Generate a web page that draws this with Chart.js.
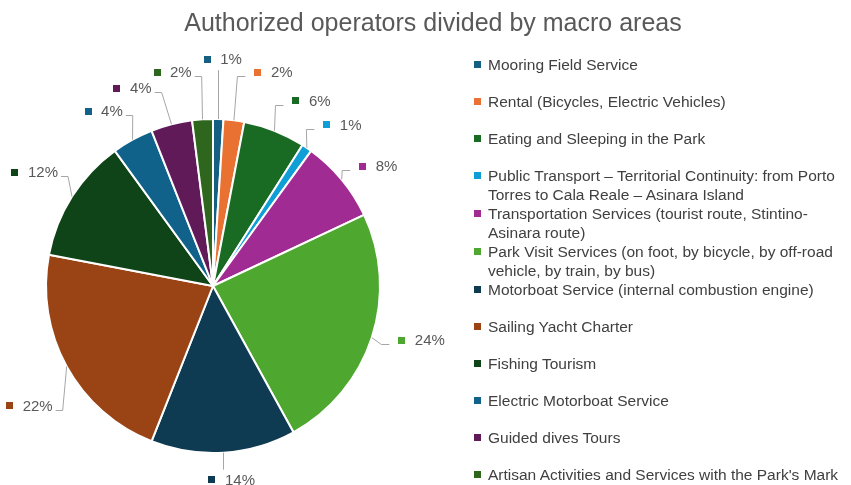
<!DOCTYPE html>
<html>
<head>
<meta charset="utf-8">
<script src="https://cdn.jsdelivr.net/npm/chart.js@4.4.1/dist/chart.umd.min.js"></script>
<style>
  html, body { margin: 0; padding: 0; background: #ffffff; }
  #wrap { position: relative; width: 851px; height: 485px; overflow: hidden; }
  #chart { position: absolute; left: 0; top: 0; }
  #title {
    position: absolute; left: 0; top: 8px; width: 866px; text-align: center;
    font: 25px "Liberation Sans", Arial, sans-serif; color: #595959;
  }
  #legend {
    position: absolute; left: 472px; top: 55px;
    font: 15.5px "Liberation Sans", Arial, sans-serif; color: #404040; line-height: 19px;
  }
  .item { position: relative; padding-left: 16px; white-space: nowrap; margin-bottom: 18px; }
  .item.wrapped { margin-bottom: 0; }
  .swatch { position: absolute; left: 2px; top: 6px; width: 7px; height: 7px; }
</style>
</head>
<body>
<div id="wrap">
  <canvas id="chart" width="851" height="485"></canvas>
  <div id="title">Authorized operators divided by macro areas</div>
  <div id="legend"></div>
</div>
<script>
// Macro areas (multi-line entries are split where the legend breaks them)
const categories = [
  'Mooring Field Service',
  'Rental (Bicycles, Electric Vehicles)',
  'Eating and Sleeping in the Park',
  ['Public Transport – Territorial Continuity: from Porto', 'Torres to Cala Reale – Asinara Island'],
  ['Transportation Services (tourist route, Stintino-', 'Asinara route)'],
  ['Park Visit Services (on foot, by bicycle, by off-road', 'vehicle, by train, by bus)'],
  'Motorboat Service (internal combustion engine)',
  'Sailing Yacht Charter',
  'Fishing Tourism',
  'Electric Motorboat Service',
  'Guided dives Tours',
  "Artisan Activities and Services with the Park's Mark"
];

// Share of authorized operators, percent
const shares = [1, 2, 6, 1, 8, 24, 14, 22, 12, 4, 4, 2];

const sliceColors = [
  '#156082', '#E97132', '#196B24', '#0F9ED5', '#A02B93', '#4EA72E',
  '#0E3A52', '#9A4416', '#0F4418', '#10628A', '#601A58', '#2F661E'
];

// Where each percentage label sits relative to the outer edge of its slice
const labelOffsets = [
  [-11, -60], [24, -48], [21.5, -30], [20, -23], [21, -13.5], [30, 2.5],
  [-11.5, 27], [-57, 39.5], [-57, -24.5], [-44.5, -28.5], [-54.5, -36], [-45.5, -47]
];

const LABEL_FONT = '15px "Liberation Sans", Arial, sans-serif';

// Percentage labels with small colour keys and grey leader lines
const outsideLabels = {
  id: 'outsideLabels',
  afterDatasetsDraw(chart) {
    const ctx = chart.ctx;
    const meta = chart.getDatasetMeta(0);
    const ds = chart.data.datasets[0];
    ctx.save();
    ctx.font = LABEL_FONT;
    ctx.textBaseline = 'middle';
    ctx.textAlign = 'left';
    meta.data.forEach((arc, i) => {
      const p = arc.getProps(['x', 'y', 'startAngle', 'endAngle', 'outerRadius'], true);
      const mid = (p.startAngle + p.endAngle) / 2;
      const ax = p.x + p.outerRadius * Math.cos(mid);
      const ay = p.y + p.outerRadius * Math.sin(mid);
      const mx = ax + labelOffsets[i][0];
      const my = ay + labelOffsets[i][1];
      const text = ds.data[i] + '%';
      const tw = ctx.measureText(text).width;
      const left = mx - 3.5, right = mx + 13 + tw, top = my - 9, bottom = my + 9;

      ctx.strokeStyle = '#a6a6a6';
      ctx.lineWidth = 1;
      ctx.beginPath();
      if (ax >= left && ax <= right) {
        const ey = ay > my ? bottom + 2 : top - 1;
        ctx.moveTo(Math.round(ax) + 0.5, ay);
        ctx.lineTo(Math.round(ax) + 0.5, ey);
      } else if (ax < left) {
        const ly = Math.round(my + 4) + 0.5;
        const lx = left - 9;
        ctx.moveTo(lx, ly);
        ctx.lineTo(lx - 8, ly);
        ctx.lineTo(ax, ay);
      } else {
        const ly = Math.round(my + 4) + 0.5;
        const lx = right + 3;
        ctx.moveTo(lx, ly);
        ctx.lineTo(lx + 7, ly);
        ctx.lineTo(ax, ay);
      }
      ctx.stroke();

      ctx.fillStyle = ds.backgroundColor[i];
      ctx.fillRect(Math.round(mx - 3.5), Math.round(my - 3.5), 7, 7);
      ctx.fillStyle = '#595959';
      ctx.fillText(text, mx + 13, my + 1);
    });
    ctx.restore();
  }
};

new Chart(document.getElementById('chart'), {
  type: 'pie',
  data: {
    labels: categories,
    datasets: [{
      data: shares,
      backgroundColor: sliceColors,
      borderColor: '#ffffff',
      borderWidth: 2,
      hoverOffset: 0,
      offset: 0
    }]
  },
  options: {
    responsive: false,
    animation: false,
    radius: 167,
    layout: { padding: { left: 45, right: 470, top: 118, bottom: 31 } },
    plugins: {
      legend: { display: false },
      title: { display: false },
      tooltip: { enabled: true }
    }
  },
  plugins: [outsideLabels]
});

// Legend on the right, built from the same categories and colours
const legendEl = document.getElementById('legend');
categories.forEach((cat, i) => {
  const lines = Array.isArray(cat) ? cat : [cat];
  const item = document.createElement('div');
  item.className = 'item' + (lines.length > 1 ? ' wrapped' : '');
  const sw = document.createElement('span');
  sw.className = 'swatch';
  sw.style.background = sliceColors[i];
  item.appendChild(sw);
  lines.forEach((ln, k) => {
    if (k > 0) item.appendChild(document.createElement('br'));
    item.appendChild(document.createTextNode(ln));
  });
  legendEl.appendChild(item);
});
</script>
</body>
</html>
